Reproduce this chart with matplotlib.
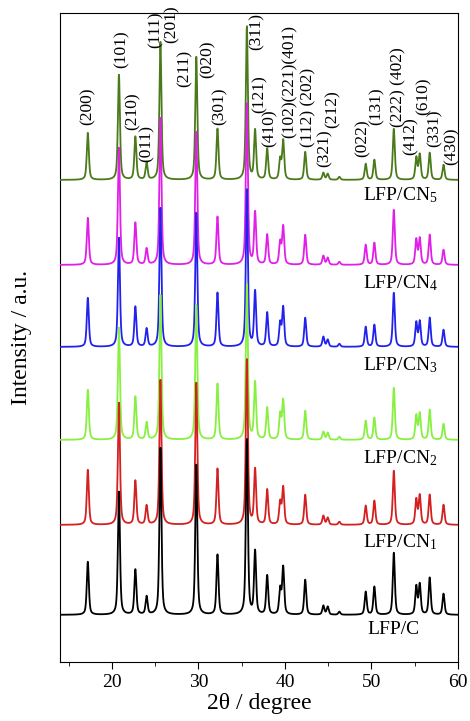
import numpy as np
import matplotlib.pyplot as plt

plt.rcParams['font.family'] = 'Liberation Serif'
plt.rcParams['mathtext.fontset'] = 'custom'
plt.rcParams['mathtext.rm'] = 'Liberation Serif'
plt.rcParams['mathtext.it'] = 'Liberation Serif:italic'

# peak positions (2theta, degree)
peak_pos = [17.2, 20.8, 22.7, 24.0, 25.6, 29.75, 32.2, 35.6, 36.55, 37.95, 39.45, 39.8,
            42.35, 44.45, 44.95, 46.3, 49.35, 50.35, 52.6, 55.2, 55.6, 56.75, 58.35]

# peak heights (a.u.)
h_c   = [53, 123, 45, 18, 167, 150, 60, 175, 63, 39, 25, 47, 35, 9, 8, 3, 23, 28, 62, 28, 30, 37, 21]
h_cn1 = [55, 122, 44, 19, 145, 142, 56, 165, 55, 35, 22, 37, 30, 9, 7, 3, 19, 24, 54, 25, 29, 30, 20]
h_cn2 = [50, 112, 43, 17, 145, 135, 56, 155, 57, 32, 25, 39, 29, 8, 7, 3, 19, 22, 52, 24, 26, 30, 16]
h_cn3 = [49, 109, 40, 18, 139, 134, 54, 157, 55, 34, 23, 39, 29, 10, 7, 3, 20, 22, 54, 24, 25, 29, 17]
h_cn4 = [47, 117, 42, 16, 147, 133, 48, 161, 52, 30, 22, 38, 30, 9, 7, 3, 20, 22, 55, 25, 26, 30, 15]
h_cn5 = [47, 105, 43, 17, 138, 123, 51, 153, 49, 31, 20, 39, 28, 7, 6, 3, 16, 20, 51, 22, 25, 27, 15]

samples = ['LFP/C', 'LFP/CN$_1$', 'LFP/CN$_2$', 'LFP/CN$_3$', 'LFP/CN$_4$', 'LFP/CN$_5$']
heights = [h_c, h_cn1, h_cn2, h_cn3, h_cn4, h_cn5]
offsets = [47, 137, 222, 315, 397, 482]
label_y = [32, 120, 204, 297, 379, 467]
colors = ['black', '#d42020', '#88f040', '#2222ee', '#e020e8', '#4a7a1a']

# hkl labels: text, x, bottom y
hkl_text = ['(200)', '(101)', '(210)', '(011)', '(111)', '(201)', '(211)', '(020)', '(301)',
            '(311)', '(121)', '(410)', '(102)(221)(401)', '(112) (202)', '(321)', '(212)',
            '(022)', '(131)', '(222) (402)', '(412)', '(610)', '(331)', '(430)']
hkl_x = [17.2, 21.1, 22.4, 24.05, 25.0, 26.9, 28.45, 31.1, 32.5, 36.7, 37.1, 38.25, 40.5,
         42.7, 44.6, 45.5, 49.05, 50.6, 53.1, 54.6, 56.0, 57.35, 59.3]
hkl_y = [537, 594, 532, 500, 614, 619, 575, 584, 537, 612, 549, 515, 524,
         515, 495, 534, 505, 537, 535, 507, 547, 515, 497]

x = np.linspace(14, 60, 4000)


def pattern(hs, w=0.14):
    y = np.zeros_like(x)
    for p, h in zip(peak_pos, hs):
        u = (x - p) / w
        y += h * (0.55 / (1 + u ** 2) + 0.45 * np.exp(-np.log(2) * u ** 2))
    return y


fig = plt.figure(figsize=(4.7, 7.21), dpi=100)
ax = fig.add_axes([0.128, 0.082, 0.846, 0.9])

# upper traces first, lower traces drawn on top
for i in range(5, -1, -1):
    ax.plot(x, pattern(heights[i]) + offsets[i], color=colors[i], lw=1.3, zorder=10 - i)
    ax.text(49.0 if i > 0 else 49.5, label_y[i], samples[i], fontsize=14,
            ha='left', va='center', zorder=20)

for t, hx, hy in zip(hkl_text, hkl_x, hkl_y):
    ax.text(hx, hy, t, rotation=90, ha='center', va='bottom', fontsize=12.5,
            clip_on=False, zorder=20)

ax.set_xlim(14, 60)
ax.set_ylim(0, 649)
ax.set_xticks([20, 30, 40, 50, 60])
ax.set_xticks([15, 25, 35, 45, 55], minor=True)
ax.set_yticks([])
ax.tick_params(axis='x', which='major', direction='out', length=5, labelsize=14)
ax.tick_params(axis='x', which='minor', direction='out', length=3)
ax.set_xlabel('2θ / degree', fontsize=17, labelpad=2)
ax.set_ylabel('Intensity / a.u.', fontsize=17, labelpad=20)

fig.savefig('out.png', dpi=100)
